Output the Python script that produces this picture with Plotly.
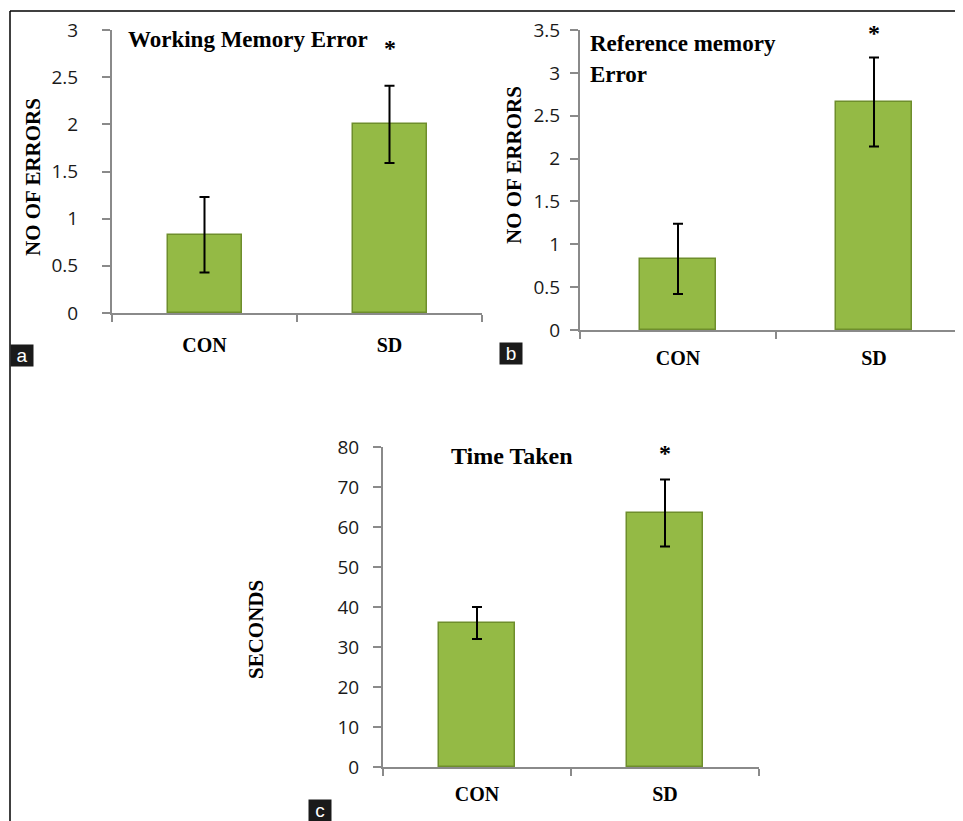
import plotly.graph_objects as go

# ---------------- data ----------------
groups = ["CON", "SD"]

wm_mean = [0.83, 2.00]      # Working memory error
wm_err = [0.40, 0.41]

rm_mean = [0.83, 2.66]      # Reference memory error
rm_err = [0.41, 0.52]

tt_mean = [36.0, 63.5]      # Time taken (s)
tt_err = [4.0, 8.4]

wm_ticks = [0, 0.5, 1, 1.5, 2, 2.5, 3]
rm_ticks = [0, 0.5, 1, 1.5, 2, 2.5, 3, 3.5]
tt_ticks = [0, 10, 20, 30, 40, 50, 60, 70, 80]

# ---------------- layout helpers ----------------
OFF = 8                      # page body margin
FW, FH = 963 - OFF, 821 - OFF
def fx(p):
    return (p - OFF) / FW
def fy(p):
    return 1 - (p - OFF) / FH

BAR = "#94ba45"
BAR_EDGE = "#6e8e2c"
AX = "#8a8a8a"
SERIF = "Liberation Serif, Times New Roman, serif"
SANS = "Open Sans, Liberation Sans, sans-serif"

fig = go.Figure()

panels = [
    dict(x="x", y="y", mean=wm_mean, err=wm_err, width=0.4),
    dict(x="x2", y="y2", mean=rm_mean, err=rm_err, width=0.39),
    dict(x="x3", y="y3", mean=tt_mean, err=tt_err, width=0.4),
]
for p in panels:
    fig.add_trace(go.Bar(
        x=groups, y=p["mean"], xaxis=p["x"], yaxis=p["y"],
        width=p["width"],
        marker=dict(color=BAR, line=dict(color=BAR_EDGE, width=1.5)),
        error_y=dict(type="data", array=p["err"], visible=True,
                     color="black", thickness=2, width=5),
        showlegend=False, hoverinfo="y",
    ))

def xaxis_cfg(domain, rng, anchor, standoff):
    return dict(type="category", domain=domain, range=rng, anchor=anchor,
                showline=True, linecolor=AX, linewidth=2,
                ticks="outside", tickson="boundaries", ticklen=7, tickwidth=2,
                tickcolor=AX, showgrid=False, zeroline=False, fixedrange=True,
                automargin=False,
                tickfont=dict(family=SERIF, size=20, color="black", weight="bold"),
                ticklabelstandoff=standoff)

def yaxis_cfg(domain, rng, ticks, anchor, standoff):
    return dict(domain=domain, range=rng, anchor=anchor,
                tickmode="array", tickvals=ticks,
                ticktext=[("%g" % t) for t in ticks],
                showline=True, linecolor=AX, linewidth=2,
                ticks="outside", ticklen=8, tickwidth=2, tickcolor=AX,
                showgrid=False, zeroline=False, fixedrange=True,
                automargin=False, ticklabelstandoff=standoff,
                tickfont=dict(family=SANS, size=19, color="#1a1a1a"))

fig.update_layout(
    width=FW, height=FH, margin=dict(l=0, r=0, t=0, b=0, autoexpand=False),
    paper_bgcolor="white", plot_bgcolor="white",
    bargap=0,
    xaxis=xaxis_cfg([fx(112), fx(482)], [-0.5, 1.5], "y", 13),
    yaxis=yaxis_cfg([fy(313), fy(30)], [0, 3], wm_ticks, "x", 20),
    xaxis2=xaxis_cfg([fx(580), 1.0], [-0.5, 1.454], "y2", 9),
    yaxis2=yaxis_cfg([fy(330), fy(30)], [0, 3.5], rm_ticks, "x2", 6),
    xaxis3=xaxis_cfg([fx(383), fx(759)], [-0.5, 1.5], "y3", 8),
    yaxis3=yaxis_cfg([fy(767), fy(447)], [0, 80], tt_ticks, "x3", 10),
)

anns = []

# titles
def title(text, x, y, size=23, xanchor="left"):
    anns.append(dict(text=text, x=fx(x), y=fy(y), xref="paper", yref="paper",
                     xanchor=xanchor, yanchor="middle", showarrow=False,
                     font=dict(family=SERIF, size=size, color="black")))

title("<b>Working Memory Error</b>", 126, 39)
title("<b>Reference memory</b>", 588, 44)
title("<b>Error</b>", 588, 74)
title("<b>Time Taken</b>", 512, 456, size=24, xanchor="center")

# y-axis titles
def ytitle(text, x, y):
    anns.append(dict(text="<b>%s</b>" % text, x=fx(x), y=fy(y), xref="paper", yref="paper",
                     xanchor="center", yanchor="middle", textangle=-90, showarrow=False,
                     font=dict(family=SERIF, size=21, color="black")))
ytitle("NO OF ERRORS", 33, 177)
ytitle("NO OF ERRORS", 514, 165)
ytitle("SECONDS", 256, 630)

# significance asterisks above SD bars
for ax, yax, yv in [("x", "y", 2.81), ("x2", "y2", 3.47), ("x3", "y3", 78.5)]:
    anns.append(dict(text="<b>*</b>", x="SD", y=yv, xref=ax, yref=yax,
                     showarrow=False, yanchor="middle",
                     font=dict(family=SERIF, size=24, color="black")))

# panel letters
for letter, x, y in [("a", 10, 344), ("b", 499, 342), ("c", 308, 799)]:
    anns.append(dict(text=letter, x=fx(x), y=fy(y), xref="paper", yref="paper",
                     xanchor="left", yanchor="top", showarrow=False,
                     bgcolor="#1a1a1a", borderpad=1, width=20, height=19,
                     font=dict(family="Liberation Sans, Arial, sans-serif", size=19, color="white")))

fig.update_layout(annotations=anns)

# outer frame lines (top and left)
fig.add_shape(type="line", xref="paper", yref="paper", x0=fx(10), x1=1, y0=fy(11), y1=fy(11),
              line=dict(color="black", width=1.5))
fig.add_shape(type="line", xref="paper", yref="paper", x0=fx(10), x1=fx(10), y0=fy(11), y1=0,
              line=dict(color="black", width=1.5))

fig.write_html("out.html")
